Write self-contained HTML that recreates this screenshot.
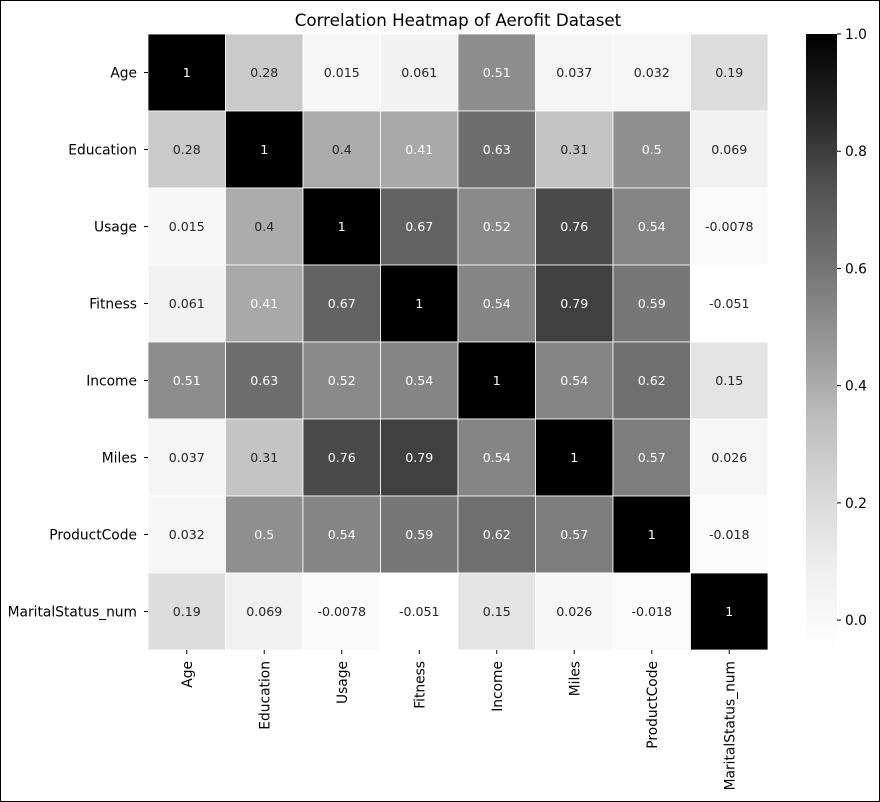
<!DOCTYPE html>
<html><head><meta charset="utf-8"><style>
html,body{margin:0;padding:0;background:#fff;}
#frame{position:absolute;left:0;top:0;width:878px;height:800px;border:1px solid #000;}
svg{position:absolute;left:0;top:0;font-family:"DejaVu Sans","Liberation Sans",sans-serif;}
</style></head><body>
<div id="frame"></div>
<svg id="chart" width="880" height="802">
<defs><linearGradient id="cbg" x1="0" y1="1" x2="0" y2="0">
<stop offset="0" stop-color="#ffffff"/><stop offset="0.125" stop-color="#f0f0f0"/><stop offset="0.25" stop-color="#d9d9d9"/><stop offset="0.375" stop-color="#bdbdbd"/><stop offset="0.5" stop-color="#969696"/><stop offset="0.625" stop-color="#737373"/><stop offset="0.75" stop-color="#525252"/><stop offset="0.875" stop-color="#252525"/><stop offset="1" stop-color="#000000"/>
</linearGradient></defs>
<text x="458" y="26" font-size="16.7" text-anchor="middle" fill="#000">Correlation Heatmap of Aerofit Dataset</text>
</svg>
<script>
const labels=["Age","Education","Usage","Fitness","Income","Miles","ProductCode","MaritalStatus_num"];
const row0=[1,0.28,0.015,0.061,0.51,0.037,0.032,0.19];
const row1=[0.28,1,0.4,0.41,0.63,0.31,0.5,0.069];
const row2=[0.015,0.4,1,0.67,0.52,0.76,0.54,-0.0078];
const row3=[0.061,0.41,0.67,1,0.54,0.79,0.59,-0.051];
const row4=[0.51,0.63,0.52,0.54,1,0.54,0.62,0.15];
const row5=[0.037,0.31,0.76,0.79,0.54,1,0.57,0.026];
const row6=[0.032,0.5,0.54,0.59,0.62,0.57,1,-0.018];
const row7=[0.19,0.069,-0.0078,-0.051,0.15,0.026,-0.018,1];
const cbTicks=[0.0,0.2,0.4,0.6,0.8,1.0];
const rows=[row0,row1,row2,row3,row4,row5,row6,row7];
const vmin=-0.051,vmax=1;
const X0=148,Y0=34,CW=77.5,CH=77;
const FS=13.8, VFS=12.6;
const stops=[255,240,217,189,150,115,82,37,0];
function gray(v){let t=(v-vmin)/(vmax-vmin);t=Math.max(0,Math.min(1,t))*8;const i=Math.min(7,Math.floor(t));const f=t-i;return Math.round(stops[i]+(stops[i+1]-stops[i])*f);}
function lum(g){let c=g/255;c=c<=0.03928?c/12.92:Math.pow((c+0.055)/1.055,2.4);return c;}
const svg=document.getElementById('chart');const NS='http://www.w3.org/2000/svg';
function mk(tag,attrs,txt){const e=document.createElementNS(NS,tag);for(const k in attrs)e.setAttribute(k,attrs[k]);if(txt!==undefined)e.textContent=txt;svg.appendChild(e);return e;}
function fmt(v){return String(v);}
rows.forEach((r,i)=>r.forEach((v,j)=>{
 const g=gray(v);
 const rc=mk('rect',{x:X0+j*CW,y:Y0+i*CH,width:CW,height:CH,fill:`rgb(${g},${g},${g})`,stroke:'#fff','stroke-width':0.8});
 
 
 const t=mk('text',{x:X0+j*CW+CW/2,y:Y0+i*CH+CH/2+4.5,'font-size':VFS,'text-anchor':'middle',fill:lum(g)>0.408?'#262626':'#ffffff'},fmt(v));
 
 
}));
labels.forEach((l,i)=>{
 const y=Y0+i*CH+CH/2;
 mk('line',{x1:X0-4,x2:X0,y1:y,y2:y,stroke:'#000'});
 const t=mk('text',{x:X0-11,y:y+5,'font-size':FS,'text-anchor':'end',fill:'#000'},l);
 
 
 const x=X0+i*CW+CW/2;
 mk('line',{x1:x,x2:x,y1:650,y2:654,stroke:'#000'});
 const t2=mk('text',{x:x+5,y:661,'font-size':FS,'text-anchor':'end',fill:'#000',transform:`rotate(-90 ${x+5} 661)`},l);
 
 
});
const cb=mk('rect',{x:806,y:34,width:31,height:616,fill:'url(#cbg)'});


cbTicks.forEach(v=>{
 const y=650-(v-vmin)/(vmax-vmin)*616;
 mk('line',{x1:837,x2:841,y1:y,y2:y,stroke:'#000'});
 const t=mk('text',{x:845,y:y+5,'font-size':FS,fill:'#000'},v.toFixed(1));
 
 
});
</script>
</body></html>
